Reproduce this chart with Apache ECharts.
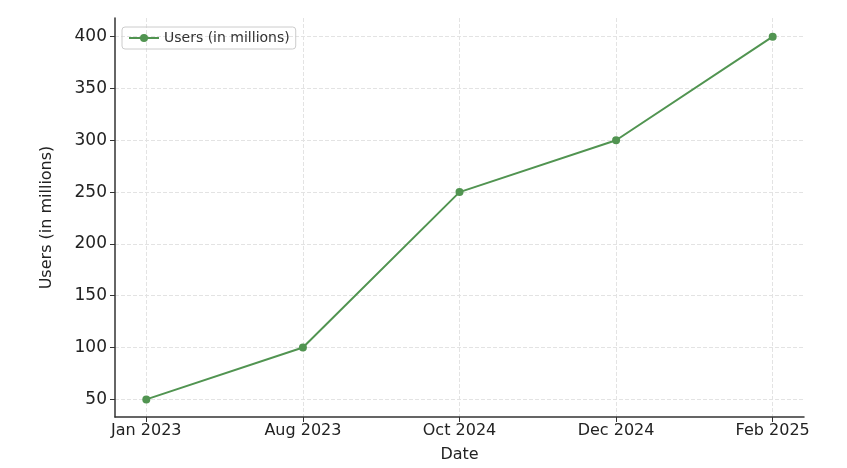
<!DOCTYPE html>
<html>
<head>
<meta charset="utf-8">
<script src="https://cdn.jsdelivr.net/npm/echarts@6/dist/echarts.min.js"></script>
<style>html,body{margin:0;padding:0;background:#fff}#chart{width:847px;height:468px}</style>
</head>
<body>
<div id="chart"></div>
<script>
var dates = ['Jan 2023', 'Aug 2023', 'Oct 2024', 'Dec 2024', 'Feb 2025'];
var users = [50, 100, 250, 300, 400];
var yTicks = [50, 100, 150, 200, 250, 300, 350, 400];

var points = [];
var xTicks = [];
for (var i = 0; i < users.length; i++) {
	points.push([i, users[i]]);
	xTicks.push(i);
}

var green = '#519451';
var chart = echarts.init(document.getElementById('chart'));
chart.setOption({
	animation: false,
	grid: { left: 115, right: 43, top: 18, bottom: 46 },
	legend: {
		left: 122, top: 27,
		data: ['Users (in millions)'],
		borderColor: '#ccc', borderWidth: 1, borderRadius: 3,
		padding: [4, 6],
		itemWidth: 30, itemHeight: 10,
		textStyle: { fontFamily: 'DejaVu Sans', fontSize: 14, color: '#333' }
	},
	xAxis: {
		type: 'value', min: -0.2, max: 4.2,
		name: 'Date', nameLocation: 'middle', nameGap: 30,
		nameTextStyle: { fontFamily: 'DejaVu Sans', fontSize: 16, color: '#222' },
		axisLine: { onZero: false, lineStyle: { color: '#333', width: 1.5 } },
		axisTick: { show: true, customValues: xTicks, lineStyle: { color: '#333' } },
		axisLabel: {
			fontFamily: 'DejaVu Sans', fontSize: 16, color: '#222', margin: 6,
			customValues: xTicks,
			formatter: function(v) { return dates[Math.round(v)] || ''; }
		},
		splitLine: { lineStyle: { color: '#e3e3e3', type: 'dashed' } }
	},
	yAxis: {
		type: 'value', min: 33, max: 418,
		name: 'Users (in millions)', nameLocation: 'middle', nameGap: 60,
		nameTextStyle: { fontFamily: 'DejaVu Sans', fontSize: 16, color: '#222' },
		axisLine: { show: true, onZero: false, lineStyle: { color: '#333', width: 1.5 } },
		axisTick: { show: true, customValues: yTicks, lineStyle: { color: '#333' } },
		axisLabel: {
			fontFamily: 'DejaVu Sans', fontSize: 17, color: '#222',
			customValues: yTicks
		},
		splitLine: { lineStyle: { color: '#e3e3e3', type: 'dashed' } }
	},
	series: [{
		name: 'Users (in millions)',
		type: 'line',
		data: points,
		symbol: 'circle', symbolSize: 8,
		lineStyle: { color: green, width: 2 },
		itemStyle: { color: green }
	}]
});
</script>
</body>
</html>
